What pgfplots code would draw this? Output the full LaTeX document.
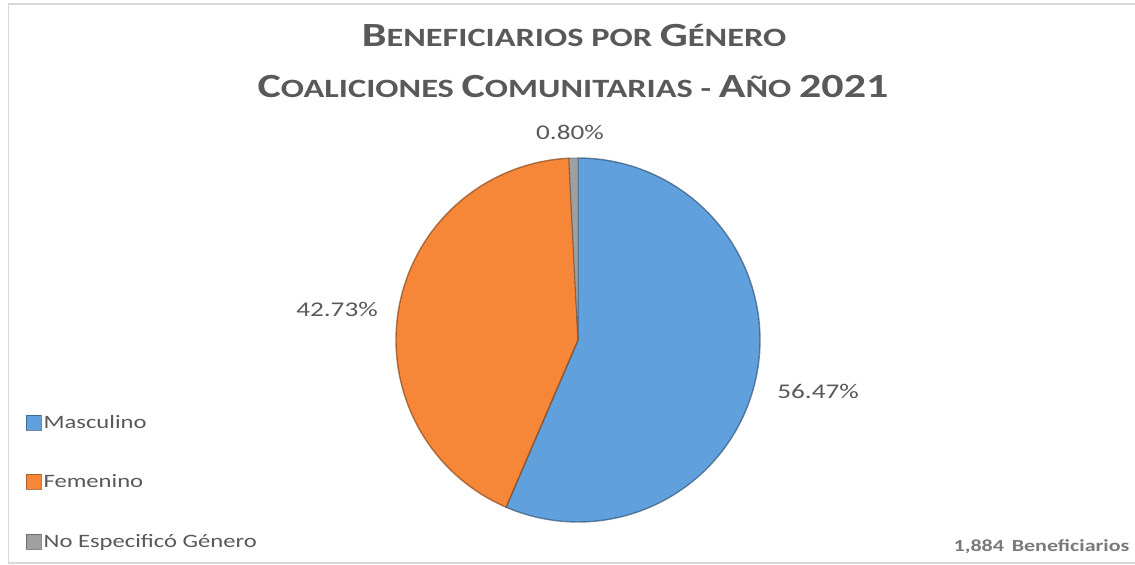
\documentclass[border=0pt]{standalone}
\usepackage{pgfplots}
\pgfplotsset{compat=1.18}
\usepackage{fontspec}
\setmainfont[FakeStretch=1.3]{Carlito}
\definecolor{txt}{RGB}{89,89,89}
\definecolor{cM}{RGB}{95,160,221}
\definecolor{cF}{RGB}{246,135,56}
\definecolor{cN}{RGB}{160,160,160}
\definecolor{frame}{RGB}{217,217,217}
\newcommand{\SC}[2]{{\fontsize{34}{34}\selectfont #1}#2}
% data (percent)
\def\pM{56.47}
\def\pF{42.73}
\def\pN{0.80}
\pgfmathsetmacro{\aA}{90}
\pgfmathsetmacro{\aB}{90-3.6*\pM}
\pgfmathsetmacro{\aC}{\aB-3.6*\pF}
\pgfmathsetmacro{\aD}{\aC-3.6*\pN}
\begin{document}
\begin{tikzpicture}[x=1bp,y=1bp]
\path[use as bounding box] (0,0) rectangle (1135,565);
\fill[white] (0,0) rectangle (1135,565);
\draw[frame, line width=1.2bp] (8.5,2) rectangle (1145,561);
\node[txt, font=\bfseries\fontsize{26.5}{26.5}\selectfont, anchor=base] at (574,518) {\SC{B}{ENEFICIARIOS} POR \SC{G}{ÉNERO}};
\node[txt, font=\bfseries\fontsize{26.5}{26.5}\selectfont, anchor=base] at (573,467) {\SC{C}{OALICIONES} \SC{C}{OMUNITARIAS} - \SC{A}{ÑO} {\fontsize{34}{34}\selectfont 2021}};
\begin{axis}[at={(578bp,225bp)}, anchor=center, width=364bp, height=364bp,
  scale only axis, hide axis, xmin=-1, xmax=1, ymin=-1, ymax=1, clip=false,
  legend style={draw=none, fill=none, at={(-1.017,0.30)}, anchor=north west,
    font=\fontsize{19}{19}\selectfont\color{txt}, row sep=41bp, inner sep=0pt,
    nodes={inner sep=2bp}},
  legend cell align=left,
  legend image code/.code={\draw[#1, line width=0.6bp] (0bp,-7.5bp) rectangle (15bp,7.5bp);}]
\addplot[fill=cM, draw=cM!55!black, draw opacity=0.7, line width=1.4bp, domain=\aB:\aA, samples=120, variable=\t]
  ({cos(\t)},{sin(\t)}) -- (axis cs:0,0) -- cycle;
\addlegendentry{Masculino}
\addplot[fill=cF, draw=cF!55!black, draw opacity=0.7, line width=1.4bp, domain=\aC:\aB, samples=100, variable=\t]
  ({cos(\t)},{sin(\t)}) -- (axis cs:0,0) -- cycle;
\addlegendentry{Femenino}
\addplot[fill=cN, draw=cN!55!black, draw opacity=0.7, line width=0.8bp, domain=\aD:\aC, samples=5, variable=\t]
  ({cos(\t)},{sin(\t)}) -- (axis cs:0,0) -- cycle;
\addlegendentry{No Especificó Género}
\node[txt, font=\fontsize{21}{21}\selectfont] at (axis cs:-0.044,1.143) {\pN\%};
\node[txt, font=\fontsize{21}{21}\selectfont] at (axis cs:-1.324,0.170) {\pF\%};
\node[txt, font=\fontsize{21}{21}\selectfont] at (axis cs:1.319,-0.280) {\pM\%};
\end{axis}
\node[txt!80, font=\bfseries\fontsize{17}{17}\selectfont, anchor=base east] at (1133,13) {1,884\, Beneficiarios};
\end{tikzpicture}
\end{document}
